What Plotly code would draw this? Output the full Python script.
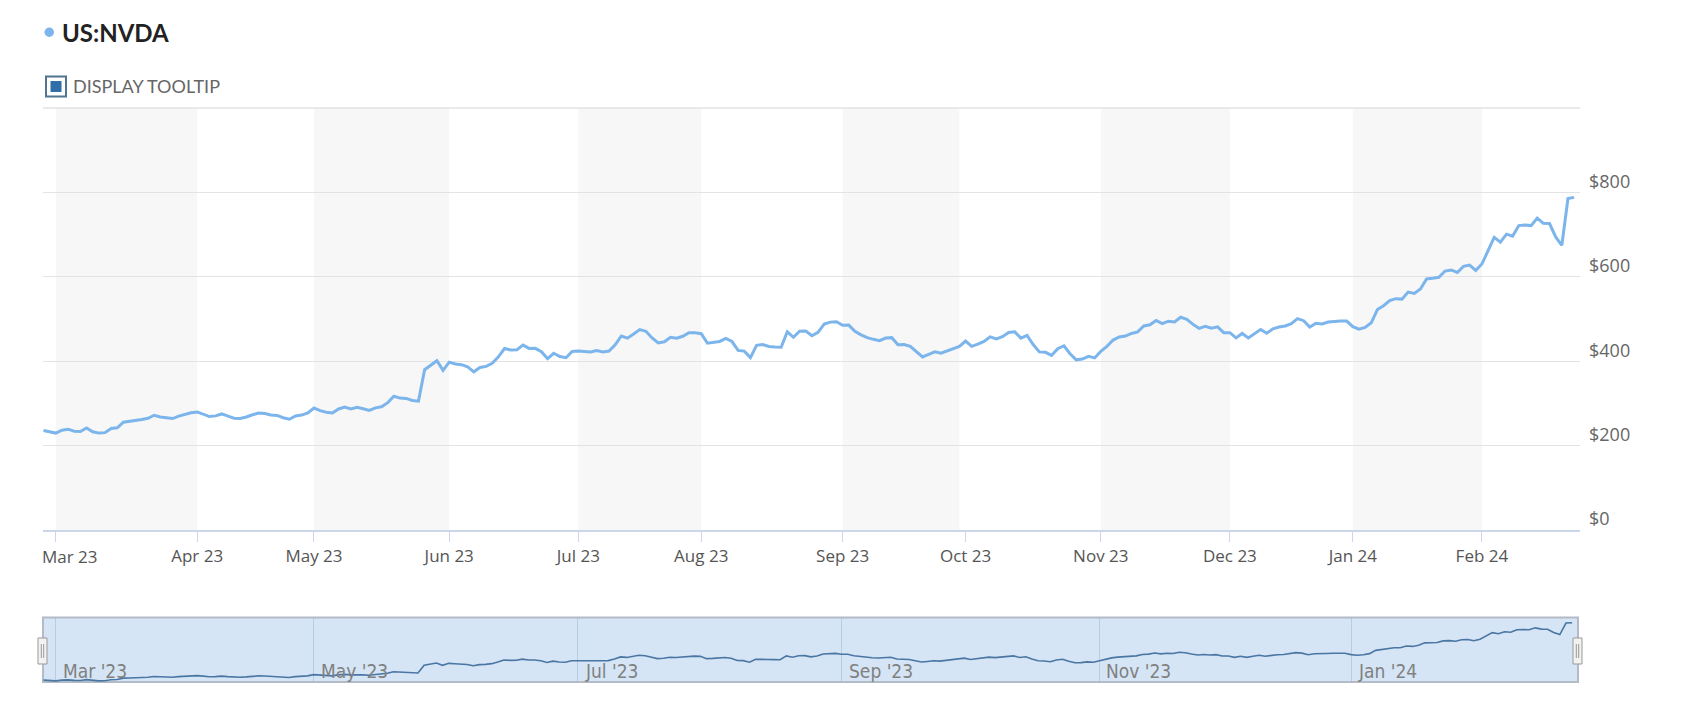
import pandas as pd
import plotly.graph_objects as go

# ---------------- data (daily closes, USD) ----------------
SERIES_NAME = "US:NVDA"
FIRST_DAY = "2023-02-27"
LAST_DAY = "2024-02-23"
HOLIDAYS = ["2023-04-07", "2023-05-29", "2023-06-19", "2023-07-04", "2023-09-04",
            "2023-11-23", "2023-12-25", "2024-01-01", "2024-01-15", "2024-02-19"]

close_2023_02 = [236.0, 232.2]
close_2023_03 = [229.7, 236.6, 238.9, 233.9, 233.4, 241.6, 232.6, 229.6, 230.7, 240.6,
                 242.3, 255.4, 257.3, 259.0, 262.0, 264.7, 271.9, 267.8, 265.3, 264.1,
                 269.8, 273.8, 277.8]
close_2023_04 = [279.7, 274.5, 268.8, 270.4, 275.0, 270.0, 265.0, 264.5, 267.7, 273.0,
                 277.0, 276.0, 272.5, 271.5, 266.0, 262.4, 270.4, 272.3, 277.5]
close_2023_05 = [289.1, 282.8, 279.1, 277.5, 286.8, 291.5, 286.7, 290.6, 287.4, 283.4,
                 289.5, 292.1, 301.8, 316.8, 312.6, 311.8, 306.9, 305.4, 379.8, 389.5,
                 401.1, 378.3]
close_2023_06 = [397.7, 393.3, 391.7, 386.5, 374.8, 385.1, 387.7, 394.8, 410.2, 430.0,
                 426.5, 426.9, 438.1, 430.3, 430.4, 422.5, 406.3, 418.8, 411.2, 408.2,
                 423.0]
close_2023_07 = [424.1, 423.1, 421.8, 425.0, 421.8, 424.1, 439.0, 459.8, 454.7, 464.6,
                 474.9, 470.8, 455.2, 443.1, 446.1, 456.8, 454.5, 459.0, 467.5, 467.3]
close_2023_08 = [465.1, 442.7, 445.2, 446.8, 454.2, 446.6, 425.5, 423.9, 408.6, 437.5,
                 439.4, 434.9, 433.4, 433.0, 469.7, 456.7, 471.2, 471.6, 460.2, 468.4,
                 487.8, 492.6, 493.6]
close_2023_09 = [485.1, 485.5, 470.6, 462.4, 455.7, 451.8, 448.7, 454.9, 455.8, 439.0,
                 439.7, 435.2, 422.4, 410.2, 416.1, 422.2, 419.1, 424.7, 430.9, 435.0]
close_2023_10 = [447.8, 435.2, 440.4, 446.9, 457.6, 452.7, 458.0, 468.1, 469.5, 454.6,
                 461.0, 439.4, 422.0, 421.0, 413.9, 429.8, 436.6, 417.8, 403.3, 405.0,
                 411.6, 407.8]
close_2023_11 = [423.3, 435.1, 450.1, 457.5, 459.6, 465.7, 469.5, 483.4, 486.2, 496.6,
                 488.9, 494.8, 493.0, 504.1, 499.4, 487.2, 477.8, 482.4, 478.2, 481.4,
                 467.7]
close_2023_12 = [467.7, 455.1, 465.7, 455.0, 466.0, 475.1, 466.3, 476.6, 480.9, 483.5,
                 488.9, 500.8, 496.0, 481.1, 489.9, 488.3, 492.8, 494.2, 495.2, 495.2]
close_2024_01 = [481.7, 475.7, 480.0, 491.0, 522.5, 531.4, 543.5, 548.2, 547.1, 563.8,
                 560.5, 571.1, 594.9, 596.5, 598.7, 613.6, 616.2, 610.3, 624.7, 627.7,
                 615.3]
close_2024_02 = [630.3, 661.6, 693.3, 682.2, 701.0, 696.4, 721.3, 722.5, 721.3, 739.0,
                 726.6, 726.1, 694.5, 674.7, 785.4, 788.2]

Y_TICKS = [0, 200, 400, 600, 800, 1000]
Y_TICK_TEXT = ["$0", "$200", "$400", "$600", "$800", ""]

# ---------------- build ----------------
closes = (close_2023_02 + close_2023_03 + close_2023_04 + close_2023_05 + close_2023_06 +
          close_2023_07 + close_2023_08 + close_2023_09 + close_2023_10 + close_2023_11 +
          close_2023_12 + close_2024_01 + close_2024_02)
dates = pd.bdate_range(FIRST_DAY, LAST_DAY, freq="C", holidays=HOLIDAYS)
n = min(len(dates), len(closes))
dates = dates[:n]
closes = closes[:n]

W, H = 1690, 716
def px(x):
    return x / W
def py(y):
    return 1 - y / H

LINE_COLOR = "#7cb5ec"
GRID = "#e3e3e3"
breaks = [dict(bounds=["sat", "mon"]), dict(values=HOLIDAYS)]
x_range = [dates[0] - pd.Timedelta(hours=2), dates[-1] + pd.Timedelta(hours=23)]

month_starts = pd.date_range("2023-03-01", "2024-03-01", freq="MS")
tick_months = month_starts[:-1]
# ticks sit on the first trading day of each month (ordinal axis)
tick_vals = [dates[dates >= m][0] for m in tick_months]
tick_text = [m.strftime("%b %y") for m in tick_months]
first_label = tick_text[0]
tick_text[0] = ""   # first label is drawn left-justified at the plot edge (as in the source)

fig = go.Figure()
fig.add_trace(go.Scatter(x=dates, y=closes, mode="lines", name=SERIES_NAME,
                         line=dict(color=LINE_COLOR, width=3), hoverinfo="skip",
                         xaxis="x", yaxis="y"))
fig.add_trace(go.Scatter(x=dates, y=closes, mode="lines", name=SERIES_NAME,
                         line=dict(color="#4a76a4", width=1.6), hoverinfo="skip",
                         xaxis="x2", yaxis="y2"))

shapes = []
# alternating month bands
for i in range(0, len(month_starts) - 1, 2):
    shapes.append(dict(type="rect", xref="x", yref="y domain",
                       x0=month_starts[i], x1=month_starts[i + 1], y0=0, y1=1,
                       fillcolor="#f7f7f7", line=dict(width=0), layer="below"))
# top grid line (last, unlabeled tick)
shapes.append(dict(type="line", xref="x domain", yref="y domain", x0=0, x1=1, y0=1, y1=1,
                   line=dict(color=GRID, width=1.5), layer="below"))
# navigator background
shapes.append(dict(type="rect", xref="x2 domain", yref="y2 domain", x0=0, x1=1, y0=0, y1=1,
                   fillcolor="#d5e5f5", line=dict(color="#b3bcc6", width=2), layer="below"))
# navigator handles
for cx in (42.5, 1577.5):
    shapes.append(dict(type="rect", xref="paper", yref="paper",
                       x0=px(cx - 4.5), x1=px(cx + 4.5), y0=py(664), y1=py(638),
                       fillcolor="#f2f2f2", line=dict(color="#999999", width=1)))
    for dx in (-1.2, 1.2):
        shapes.append(dict(type="line", xref="paper", yref="paper",
                           x0=px(cx + dx), x1=px(cx + dx), y0=py(644), y1=py(658),
                           line=dict(color="#999999", width=1)))
# legend dot
shapes.append(dict(type="circle", xref="paper", yref="paper",
                   x0=px(44.5), x1=px(54), y0=py(37), y1=py(27.5),
                   fillcolor=LINE_COLOR, line=dict(width=0)))
# checkbox
shapes.append(dict(type="rect", xref="paper", yref="paper",
                   x0=px(46), x1=px(66), y0=py(96.5), y1=py(76.5),
                   fillcolor="white", line=dict(color="#4f7591", width=2)))
shapes.append(dict(type="rect", xref="paper", yref="paper",
                   x0=px(50.5), x1=px(61.5), y0=py(92), y1=py(81),
                   fillcolor="#2f6ea6", line=dict(width=0)))

annotations = [
    dict(text="<b>" + SERIES_NAME + "</b>", xref="paper", yref="paper", x=px(60), y=py(32.5),
         xanchor="left", yanchor="middle", showarrow=False,
         font=dict(family="Lato", size=24, color="#222222")),
    dict(text="DISPLAY TOOLTIP", xref="paper", yref="paper", x=px(71), y=py(86.5),
         xanchor="left", yanchor="middle", showarrow=False,
         font=dict(family="Lato", size=18, color="#666666")),
    dict(text=first_label, xref="x domain", yref="paper", x=0, y=py(556),
         xanchor="left", yanchor="middle", showarrow=False, xshift=-3,
         font=dict(family="Open Sans", size=17, color="#555555")),
]
# navigator labels (every two months)
nav_months = pd.date_range("2023-03-01", "2024-01-01", freq="2MS")
for m in nav_months:
    annotations.append(dict(text=m.strftime("%b '%y"), xref="x2", yref="y2 domain",
                            x=m, y=0, xanchor="left", yanchor="bottom", xshift=5, yshift=-2,
                            showarrow=False,
                            font=dict(family="DejaVu Sans Condensed, Liberation Sans Narrow",
                                      size=19, color="#808080")))

fig.update_layout(
    width=W, height=H, margin=dict(l=0, r=0, t=0, b=0),
    paper_bgcolor="white", plot_bgcolor="white", showlegend=False,
    font=dict(family="Open Sans", color="#666666"),
    shapes=shapes, annotations=annotations,
    xaxis=dict(domain=[px(43), px(1580)], anchor="y", type="date", range=x_range,
               rangebreaks=breaks, tickmode="array", tickvals=tick_vals,
               ticktext=tick_text,
               ticks="outside", ticklen=10, tickcolor="#ccd6eb", tickwidth=1,
               showline=True, linecolor="#ccd6eb", linewidth=2, showgrid=False,
               zeroline=False, tickfont=dict(family="Open Sans", size=17, color="#555555"),
               automargin=False),
    yaxis=dict(domain=[py(530), py(108)], anchor="x", side="right", range=[0, 1000],
               tickvals=Y_TICKS, ticktext=Y_TICK_TEXT, showgrid=True, gridcolor=GRID,
               gridwidth=1, zeroline=False, showline=False, ticks="",
               ticklabelstandoff=8, ticklabelshift=-11,
               tickfont=dict(family="Open Sans", size=18, color="#666666"),
               automargin=False, fixedrange=True),
    xaxis2=dict(domain=[px(43), px(1578)], anchor="y2", type="date", range=x_range,
                rangebreaks=breaks, dtick="M2", tick0="2023-03-01",
                ticks="", showticklabels=False, showline=False,
                showgrid=True, gridcolor="rgba(120,150,190,0.30)", gridwidth=1,
                zeroline=False, automargin=False),
    yaxis2=dict(domain=[py(682), py(617.5)], anchor="x2",
                range=[min(closes) - 0.02 * (max(closes) - min(closes)),
                       max(closes) + 0.09 * (max(closes) - min(closes))],
                showgrid=False, showticklabels=False, zeroline=False, showline=False,
                ticks="", automargin=False, fixedrange=True),
)

fig.write_html("out.html", config={"displayModeBar": False},
               post_script="document.body.style.margin='0px';")
